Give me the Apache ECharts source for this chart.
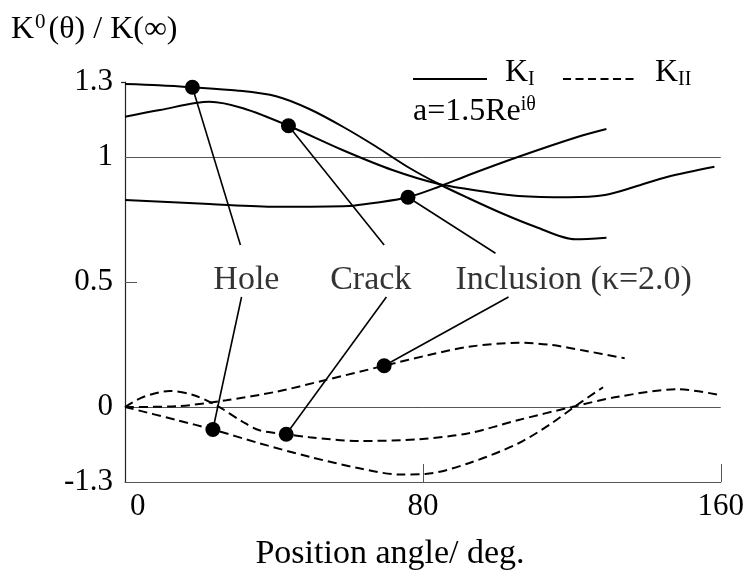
<!DOCTYPE html>
<html>
<head>
<meta charset="utf-8">
<script src="https://cdn.jsdelivr.net/npm/echarts@6/dist/echarts.min.js"></script>
<style>
  html, body { margin: 0; padding: 0; background: #fff; }
  #chart { width: 747px; height: 586px; }
</style>
</head>
<body>
<div id="chart"></div>
<script>
// Normalised stress intensity factors K0(θ)/K(∞) against position angle θ (deg)
// for a defect at a = 1.5R e^{iθ}. Each entry is [angle, value].
const holeKI = [[0,1.292],[9,1.287],[18.1,1.279],[30,1.266],[40.6,1.243],[49.5,1.192],[58.4,1.122],[67.3,1.043],[76.3,0.957],[84.3,0.892],[92.3,0.835],[101.2,0.775],[110.2,0.721],[120.9,0.671],[129.3,0.677]];
const crackKI = [[0,1.161],[9.4,1.188],[22.7,1.221],[31.7,1.195],[43.9,1.125],[58.4,1.028],[71.8,0.948],[84.3,0.892],[96.8,0.861],[105.7,0.844],[119.1,0.839],[128.9,0.848],[136.9,0.881],[145.8,0.921],[158.3,0.961]];
const inclusionKI = [[0,0.828],[22.7,0.812],[40.6,0.801],[60.2,0.804],[67.3,0.817],[76,0.839],[84.3,0.881],[92.3,0.928],[105.7,1.001],[121.7,1.081],[129.3,1.112]];

const holeKII = [[0,0],[13.8,-0.052],[23.6,-0.09],[36.1,-0.145],[49.5,-0.199],[62.9,-0.245],[73.6,-0.27],[80.7,-0.268],[92.3,-0.225],[105.7,-0.145],[114.6,-0.065],[120.9,0.003],[128.4,0.079]];
const crackKII = [[0,0],[4.9,0.04],[12,0.064],[18.3,0.048],[24.5,0.007],[31.7,-0.06],[36.1,-0.093],[43.3,-0.109],[49.5,-0.121],[62.9,-0.136],[78.9,-0.129],[92.3,-0.105],[105.7,-0.052],[120,0],[132.4,0.041],[148.5,0.071],[160.1,0.047]];
const inclusionKII = [[0,0],[13.8,0.003],[27.2,0.027],[40.6,0.061],[53.1,0.105],[69.6,0.165],[81.6,0.208],[92.3,0.241],[105.7,0.257],[114.6,0.248],[123.5,0.225],[134.2,0.195]];

// Axis ticks and their printed labels
const xTickValues = [0, 80, 160];
const xTickLabels = ['0', '80', '160'];
const yTickValues = [-0.3, 0, 0.5, 1, 1.3];
const yTickLabels = ['-1.3', '0', '0.5', '1', '1.3'];

// Callout names and the angles of the marked points on the KI / KII curves
const calloutNames = ['Hole', 'Crack', 'Inclusion (κ=2.0)'];
const markedKI = [18.1, 43.9, 76];
const markedKII = [23.6, 43.3, 69.6];

const FONT = 'Liberation Serif';

// Where each callout text sits and where its two leaders meet it (axis units)
const calloutLayout = [
  { text: [32.6, 0.508], upper: [31.0, 0.648], lower: [31.3, 0.44] },
  { text: [66.0, 0.508], upper: [69.6, 0.648], lower: [70.2, 0.44] },
  { text: [120.5, 0.508], upper: [99.5, 0.615], lower: [103.0, 0.44] }
];

const kiSeries = [holeKI, crackKI, inclusionKI];
const kiiSeries = [holeKII, crackKII, inclusionKII];

function valueAt(series, angle) {
  const p = series.find(d => Math.abs(d[0] - angle) < 1e-9);
  return p[1];
}
function tickText(values, labels, v) {
  const i = values.findIndex(t => Math.abs(t - v) < 1e-6);
  return i >= 0 ? labels[i] : '';
}

const curve = (data, dashed) => ({
  type: 'line',
  data: data,
  smooth: 0.3,
  showSymbol: false,
  silent: true,
  lineStyle: { color: '#000', width: 2, type: dashed ? [9, 5] : 'solid' },
  z: 3
});

const series = [];
kiSeries.forEach(d => series.push(curve(d, false)));
kiiSeries.forEach(d => series.push(curve(d, true)));

// Reference lines at 1 and 0
series[0].markLine = {
  silent: true,
  symbol: 'none',
  label: { show: false },
  lineStyle: { color: '#555', width: 1, type: 'solid' },
  data: [{ yAxis: 1 }, { yAxis: 0 }],
  z: 1
};

// Leaders from the marked points to the callout text
const dotPoints = [];
calloutLayout.forEach((c, i) => {
  const top = [markedKI[i], valueAt(kiSeries[i], markedKI[i])];
  const bottom = [markedKII[i], valueAt(kiiSeries[i], markedKII[i])];
  dotPoints.push(top, bottom);
  [[top, c.upper], [c.lower, bottom]].forEach(seg => {
    series.push({
      type: 'line', data: seg, showSymbol: false, silent: true,
      lineStyle: { color: '#000', width: 1.6 }, z: 4
    });
  });
});

series.push({
  type: 'scatter', data: dotPoints, symbol: 'circle', symbolSize: 15,
  itemStyle: { color: '#000', opacity: 1 }, silent: true, z: 6
});

series.push({
  type: 'scatter',
  data: calloutLayout.map((c, i) => ({ value: c.text, name: calloutNames[i] })),
  symbolSize: 0, silent: true, z: 7,
  label: {
    show: true, position: 'inside', formatter: p => p.name,
    color: '#000', fontFamily: FONT, fontSize: 34
  }
});

const option = {
  animation: false,
  backgroundColor: '#fff',
  grid: { left: 125, right: 24, top: 82, bottom: 104 },
  xAxis: {
    type: 'value', min: 0, max: 160,
    axisLine: { show: true, onZero: false, lineStyle: { color: '#555', width: 1.2 } },
    axisTick: { show: true, inside: true, length: 18, customValues: [80, 160], lineStyle: { color: '#555', width: 1 } },
    axisLabel: {
      customValues: xTickValues,
      margin: 9,
      color: '#000', fontFamily: FONT, fontSize: 31,
      formatter: v => v === 0 ? '{p|0}' : tickText(xTickValues, xTickLabels, v),
      rich: { p: { padding: [0, 0, 0, 5], fontFamily: FONT, fontSize: 31, color: '#000' } },
      alignMinLabel: 'left'
    },
    splitLine: { show: false }
  },
  yAxis: [{
    type: 'value', min: -0.3, max: 1.3,
    axisLine: { show: true, onZero: false, lineStyle: { color: '#222', width: 1.2 } },
    axisTick: { show: true, inside: true, length: 12, customValues: [0.5], lineStyle: { color: '#555', width: 1 } },
    axisLabel: {
      customValues: yTickValues,
      margin: 12,
      color: '#000', fontFamily: FONT, fontSize: 31,
      formatter: v => tickText(yTickValues, yTickLabels, v)
    },
    splitLine: { show: false }
  }, {
    type: 'value', min: -0.3, max: 1.3, position: 'left',
    axisLine: { show: false, onZero: false },
    axisTick: { show: true, inside: false, length: 4, customValues: [1.3], lineStyle: { color: '#222', width: 1.2 } },
    axisLabel: { show: false },
    splitLine: { show: false }
  }],
  graphic: [
    {
      type: 'text', left: 11, top: 12,
      style: {
        text: '{k|K}{s|0}{k|(θ) / K(∞)}',
        rich: {
          k: { fontFamily: FONT, fontSize: 32, lineHeight: 36, fill: '#000' },
          s: { fontFamily: FONT, fontSize: 21, lineHeight: 20, verticalAlign: 'top', fill: '#000', padding: [0, 3, 0, 1] }
        }
      }
    },
    { type: 'line', shape: { x1: 413, y1: 79, x2: 487, y2: 79 }, style: { stroke: '#000', lineWidth: 2 } },
    {
      type: 'text', left: 505, top: 57,
      style: {
        text: '{k|K}{b|I}',
        rich: {
          k: { fontFamily: FONT, fontSize: 32, lineHeight: 34, fill: '#000' },
          b: { fontFamily: FONT, fontSize: 20, lineHeight: 20, verticalAlign: 'bottom', fill: '#000' }
        }
      }
    },
    { type: 'line', shape: { x1: 563, y1: 79, x2: 636, y2: 79 }, style: { stroke: '#000', lineWidth: 2, lineDash: [8, 4.5] } },
    {
      type: 'text', left: 655, top: 57,
      style: {
        text: '{k|K}{b|II}',
        rich: {
          k: { fontFamily: FONT, fontSize: 32, lineHeight: 34, fill: '#000' },
          b: { fontFamily: FONT, fontSize: 20, lineHeight: 20, verticalAlign: 'bottom', fill: '#000' }
        }
      }
    },
    {
      type: 'text', left: 413, top: 95,
      style: {
        text: '{k|a=1.5Re}{s|iθ}',
        rich: {
          k: { fontFamily: FONT, fontSize: 32, lineHeight: 34, fill: '#000' },
          s: { fontFamily: FONT, fontSize: 20, lineHeight: 20, verticalAlign: 'top', fill: '#000' }
        }
      }
    },
    {
      type: 'text', x: 390, y: 554,
      style: {
        text: 'Position angle/ deg.',
        fontFamily: FONT, fontSize: 34, fill: '#000',
        textAlign: 'center', textVerticalAlign: 'middle'
      }
    }
  ],
  series: series
};

const chart = echarts.init(document.getElementById('chart'));
chart.setOption(option);
</script>
</body>
</html>
